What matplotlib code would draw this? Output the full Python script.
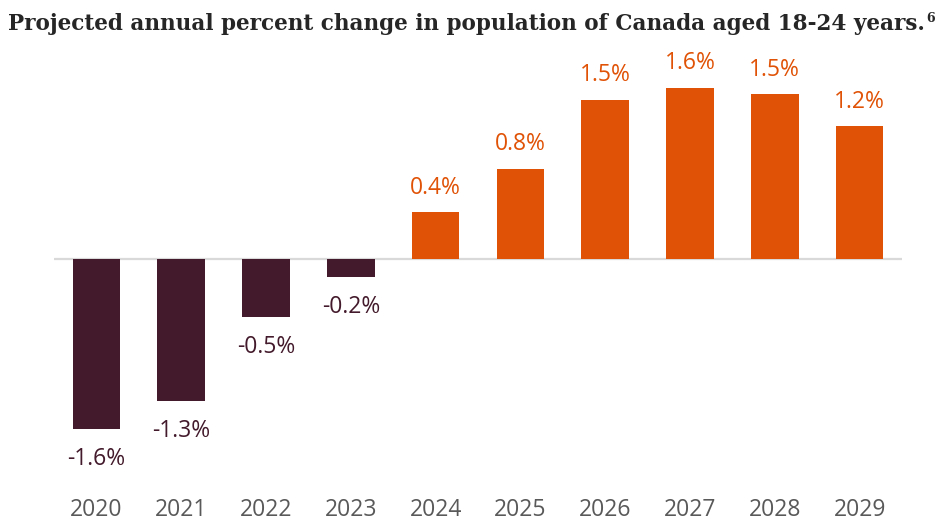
"""Projected annual percent change in population of Canada aged 18-24 years."""

import matplotlib
import matplotlib.pyplot as plt

matplotlib.use("Agg")

# data
years = ["2020", "2021", "2022", "2023", "2024", "2025", "2026", "2027", "2028", "2029"]
change = [-1.6, -1.34, -0.55, -0.17, 0.44, 0.85, 1.50, 1.61, 1.55, 1.25]
labels = ["-1.6%", "-1.3%", "-0.5%", "-0.2%", "0.4%", "0.8%", "1.5%", "1.6%", "1.5%", "1.2%"]

NEG_COLOR = "#431a2b"
POS_COLOR = "#e05206"
TICK_COLOR = "#595959"
TITLE = "Projected annual percent change in population of Canada aged 18-24 years."

W, H = 952, 522
fig = plt.figure(figsize=(W / 100, H / 100), dpi=100)

# axes placed in pixels: x from 54 to 902, zero line at y=259
ax_left, ax_right = 54, 902
ax_top, ax_bottom = 60, 490
ax = fig.add_axes([ax_left / W, 1 - ax_bottom / H,
                   (ax_right - ax_left) / W, (ax_bottom - ax_top) / H])

px_per_unit = 106.25
zero_y = 259
ax.set_ylim(-(ax_bottom - zero_y) / px_per_unit, (zero_y - ax_top) / px_per_unit)
ax.set_xlim(-0.5, len(years) - 0.5)

colors = [NEG_COLOR if v < 0 else POS_COLOR for v in change]
xs = list(range(len(years)))
ax.bar(xs, change, width=0.56, color=colors, zorder=2)
ax.axhline(0, color="#d9d9d9", linewidth=1.6, zorder=1)

font = "Open Sans"
for x, v, lab, c in zip(xs, change, labels, colors):
    if v < 0:
        ax.annotate(lab, (x, v), xytext=(0, -13), textcoords="offset points",
                    ha="center", va="top", fontsize=16.5, color=c, family=font)
    else:
        ax.annotate(lab, (x, v), xytext=(0, 9), textcoords="offset points",
                    ha="center", va="bottom", fontsize=16.5, color=c, family=font)

ax.set_xticks(xs)
ax.set_xticklabels(years, fontsize=16.5, color=TICK_COLOR, family=font)
ax.tick_params(axis="x", length=0, pad=6)
ax.set_yticks([])
for spine in ax.spines.values():
    spine.set_visible(False)

title = fig.text(8 / W, 1 - 24 / H, TITLE, ha="left", va="center",
                 fontsize=15.5, fontweight="bold", family="DejaVu Serif",
                 color="#262626")
fig.canvas.draw()
bb = title.get_window_extent()
fig.text((bb.x1 + 1) / W, 1 - 18 / H, "6", ha="left", va="center",
         fontsize=9, fontweight="bold", family="DejaVu Serif", color="#262626")

fig.savefig("out.png", dpi=100)
plt.close(fig)
